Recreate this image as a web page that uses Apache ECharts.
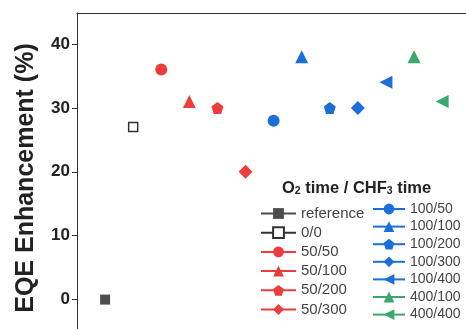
<!DOCTYPE html>
<html>
<head>
<meta charset="utf-8">
<script src="https://cdn.jsdelivr.net/npm/echarts@6/dist/echarts.min.js"></script>
<style>
  html, body { margin: 0; padding: 0; background: #fff; }
  #chart { width: 466px; height: 329px; }
</style>
</head>
<body>
<div id="chart"></div>
<script>
// O2 time / CHF3 time conditions
const conditions = ['reference', '0/0', '50/50', '50/100', '50/200', '50/300',
  '100/50', '100/100', '100/200', '100/300', '100/400', '400/100', '400/400'];
const sampleIndex = [1, 2, 3, 4, 5, 6, 7, 8, 9, 10, 11, 12, 13];
const eqeEnhancement = [0, 27, 36, 31, 30, 20, 28, 38, 30, 30, 34, 38, 31];
const yTicks = [0, 10, 20, 30, 40];

const leftLegend = conditions.slice(0, 6);
const rightLegend = conditions.slice(6);

const GRAY = '#4d4d4d';
const RED = '#ec3c3c';
const BLUE = '#1c6fd8';
const GREEN = '#3aa86a';
const PENTAGON = 'path://M0,-10 L9.51,-3.09 L5.88,8.09 L-5.88,8.09 L-9.51,-3.09 Z';
const LEFT_TRI = 'path://M0,5 L10,0 L10,10 Z';

// marker look for each condition
const styles = [
  { color: GRAY, symbol: 'rect', size: 10 },
  { color: '#333', symbol: 'rect', size: 9, open: true },
  { color: RED, symbol: 'circle', size: 12 },
  { color: RED, symbol: 'triangle', size: 13 },
  { color: RED, symbol: PENTAGON, size: 12 },
  { color: RED, symbol: 'diamond', size: 14 },
  { color: BLUE, symbol: 'circle', size: 12 },
  { color: BLUE, symbol: 'triangle', size: 13 },
  { color: BLUE, symbol: PENTAGON, size: 12 },
  { color: BLUE, symbol: 'diamond', size: 14 },
  { color: BLUE, symbol: LEFT_TRI, size: 13 },
  { color: GREEN, symbol: 'triangle', size: 13 },
  { color: GREEN, symbol: LEFT_TRI, size: 13 }
];

const FONT = '"Liberation Sans", Arial, sans-serif';

const series = conditions.map((name, i) => {
  const s = styles[i];
  return {
    name,
    type: 'line',
    data: [[sampleIndex[i], eqeEnhancement[i]]],
    symbol: s.symbol,
    symbolSize: s.size,
    showSymbol: true,
    lineStyle: { color: s.color, width: 1.5 },
    itemStyle: s.open
      ? { color: '#fff', borderColor: s.color, borderWidth: 1.5 }
      : { color: s.color, borderWidth: 0 },
    emphasis: { disabled: true },
    animation: false
  };
});

const legendBase = {
  orient: 'vertical',
  itemHeight: 13.5,
  selectedMode: false,
  padding: 0
};

const chart = echarts.init(document.getElementById('chart'), null, { renderer: 'canvas' });
chart.setOption({
  animation: false,
  title: {
    text: '{a|O}{s|2}{a| time / CHF}{s|3}{a| time}',
    left: 282,
    top: 179,
    padding: 0,
    textStyle: {
      fontFamily: FONT,
      rich: {
        a: { fontSize: 16.5, fontWeight: 'bold', color: '#222', fontFamily: FONT, verticalAlign: 'bottom', lineHeight: 18 },
        s: { fontSize: 10.5, fontWeight: 'bold', color: '#222', fontFamily: FONT, verticalAlign: 'bottom', lineHeight: 12 }
      }
    }
  },
  legend: [
    Object.assign({}, legendBase, {
      data: leftLegend,
      left: 260,
      top: 206,
      itemWidth: 35,
      itemGap: 4.2,
      textStyle: { fontFamily: FONT, color: '#444', fontSize: 15 }
    }),
    Object.assign({}, legendBase, {
      data: rightLegend,
      left: 372,
      top: 202,
      itemWidth: 32,
      itemGap: 3.6,
      textStyle: { fontFamily: FONT, color: '#444', fontSize: 14 }
    })
  ],
  grid: {
    left: 77,
    top: 13,
    right: 0,
    bottom: 0,
    show: false
  },
  xAxis: {
    type: 'value',
    min: 0,
    max: 13.85,
    position: 'top',
    axisLine: { show: true, onZero: false, lineStyle: { color: '#333', width: 1 } },
    axisTick: { show: false },
    axisLabel: { show: false },
    splitLine: { show: false }
  },
  yAxis: {
    type: 'value',
    min: -4.6,
    max: 44.85,
    name: 'EQE Enhancement (%)',
    nameLocation: 'middle',
    nameRotate: 90,
    nameGap: 38,
    nameTextStyle: {
      fontFamily: FONT, fontSize: 25, fontWeight: 'bold', color: '#222',
      padding: [0, 14, 0, 0]
    },
    axisLine: { show: true, onZero: false, lineStyle: { color: '#333', width: 1 } },
    axisTick: { show: true, length: 5, customValues: yTicks, lineStyle: { color: '#333' } },
    axisLabel: {
      customValues: yTicks,
      margin: 7,
      fontFamily: FONT,
      fontSize: 17,
      fontWeight: 'bold',
      color: '#222'
    },
    splitLine: { show: false }
  },
  series
});
</script>
</body>
</html>
